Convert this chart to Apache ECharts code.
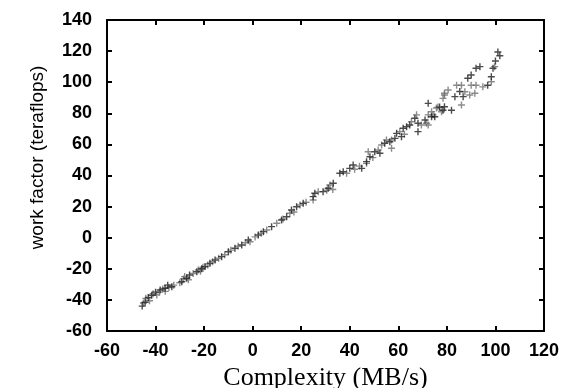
<!DOCTYPE html>
<html>
<head>
<meta charset="utf-8">
<script src="https://cdn.jsdelivr.net/npm/echarts@6/dist/echarts.min.js"></script>
<style>html,body{margin:0;padding:0;background:#fff;}#c{width:573px;height:388px;}</style>
</head>
<body>
<div id="c"></div>
<script>
const xTicks = [-60, -40, -20, 0, 20, 40, 60, 80, 100, 120];
const yTicks = [-60, -40, -20, 0, 20, 40, 60, 80, 100, 120, 140];
const xTitle = 'Complexity (MB/s)';
const yTitle = 'work factor (teraflops)';

const darkPoints = [[-45.5,-44],[-44.3,-41.5],[-43,-38.5],[-41.6,-37],[-40,-35],[-38.1,-33.6],[-36.1,-32.5],[-35,-30.5],[-33.3,-31.5],[-29.2,-28.3],[-27.2,-26.1],[-26,-24],[-23,-21.9],[-21,-20],[-19.6,-18.6],[-17.6,-16.5],[-15.5,-14.3],[-12.8,-12.2],[-10,-9],[-7.3,-6.8],[-4.5,-4.7],[-1.8,-1.5],[2.3,1.7],[4.4,3.9],[7.8,7.1],[11.9,11.4],[14,13.5],[16,17.8],[18.1,19.9],[20.8,22.1],[24.9,26.4],[25.6,28.6],[29,29.6],[31.1,31.8],[33.2,35],[35.9,41.4],[37.3,42.4],[40,44.6],[41.4,46.8],[44.9,44.6],[46.9,48.9],[48.3,52.1],[50.3,55.3],[52.4,54.3],[54.4,60.7],[56.5,61.7],[58.6,63.9],[59.3,67.1],[61.3,65],[62,70.4],[63.4,71.4],[64.7,72.5],[66.8,76.8],[68.1,68.2],[68.1,73.6],[71,75.7],[72.3,86.4],[73.7,77.8],[75,77.8],[77,84],[78.4,82],[79,84.2],[81.9,82],[83.3,90.7],[85.3,94],[86.7,90.7],[88.6,102.5],[90,104.6],[92,109],[93.6,110],[96.8,98],[98.3,103.5],[99,109],[100,113.6],[101,119.4],[101.8,117]];

const grayPoints = [[-45,-42],[-44,-39],[-42.5,-40.5],[-41,-36],[-39.5,-36.8],[-38.5,-35],[-37,-33],[-36,-34.5],[-34.5,-32],[-32.5,-30.5],[-30,-29],[-28.5,-26.5],[-28,-25],[-26.5,-27],[-24.5,-23],[-22.4,-20.8],[-21.5,-21.5],[-20.5,-19],[-18.5,-17.5],[-16.5,-15.5],[-14,-13.2],[-11.5,-11],[-9,-8],[-6,-5.5],[-3,-3.2],[-1.1,-2.6],[1,0.5],[3.5,2.8],[5.8,5],[9.9,9.3],[12.5,12],[15.3,15.7],[17,16.5],[19.5,21],[22,22.8],[24.9,24.2],[27,29.5],[30.5,30.5],[31.8,33.9],[33,31],[38.7,41.4],[42,44],[44,46],[46.9,47.8],[47.6,55.3],[49.5,51.5],[51.7,56.4],[53.1,59.6],[55.1,62.8],[57.2,57.5],[57.2,62.8],[60.6,68.2],[62.5,66.5],[65.4,74.6],[67.5,79],[69.5,72.5],[71.6,73.6],[72.3,72.5],[72.3,79],[73.7,81],[74.3,79],[75.7,83.4],[76.3,84],[77.8,81],[78.4,89.6],[79,92.9],[79,91.8],[80.5,95],[84,98],[86,98],[86,85.3],[87.4,93.9],[89.4,91.8],[90,98],[91.5,92.9],[92,98],[94.8,97],[98.3,100.3],[99.7,110]];

const plus = 'path://M2.8,0H4.2V2.8H7V4.2H4.2V7H2.8V4.2H0V2.8H2.8Z';
const labelFont = {fontFamily:'Liberation Sans, Arial, sans-serif', fontSize:18, fontWeight:'bold', color:'#000'};

const chart = echarts.init(document.getElementById('c'), null, {renderer:'canvas'});
const xMin = xTicks[0], xMax = xTicks[xTicks.length-1];
const yMin = yTicks[0], yMax = yTicks[yTicks.length-1];
const axisLine = {show:true, onZero:false, lineStyle:{color:'#000', width:2}};
const axisTick = {show:true, inside:true, length:5, lineStyle:{color:'#000', width:2}};
chart.setOption({
  animation:false,
  backgroundColor:'#fff',
  grid:{left:107, right:29, top:20, bottom:57, containLabel:false, outerBoundsMode:'none'},
  xAxis:[
    {type:'value', min:xMin, max:xMax, interval:20, position:'bottom',
     name:xTitle, nameLocation:'middle', nameGap:32,
     nameTextStyle:{fontFamily:'Liberation Serif, Times New Roman, serif', fontSize:26, color:'#000'},
     axisLine, axisTick, splitLine:{show:false},
     axisLabel:Object.assign({margin:11}, labelFont)},
    {type:'value', min:xMin, max:xMax, interval:20, position:'top',
     axisLine, axisTick, splitLine:{show:false}, axisLabel:{show:false}}
  ],
  yAxis:[
    {type:'value', min:yMin, max:yMax, interval:20, position:'left',
     name:yTitle, nameLocation:'middle', nameGap:60, nameRotate:90,
     nameTextStyle:{fontFamily:'Liberation Sans, Arial, sans-serif', fontSize:19, color:'#000', padding:[0,0,0,36]},
     axisLine, axisTick, splitLine:{show:false},
     axisLabel:Object.assign({margin:15}, labelFont)},
    {type:'value', min:yMin, max:yMax, interval:20, position:'right',
     axisLine, axisTick, splitLine:{show:false}, axisLabel:{show:false}}
  ],
  series:[
    {type:'scatter', data:grayPoints, symbol:plus, symbolSize:7, itemStyle:{color:'#6e6e6e'}, xAxisIndex:0, yAxisIndex:0},
    {type:'scatter', data:darkPoints, symbol:plus, symbolSize:7, itemStyle:{color:'#1e1e1e'}, xAxisIndex:0, yAxisIndex:0}
  ]
});
</script>
</body>
</html>
